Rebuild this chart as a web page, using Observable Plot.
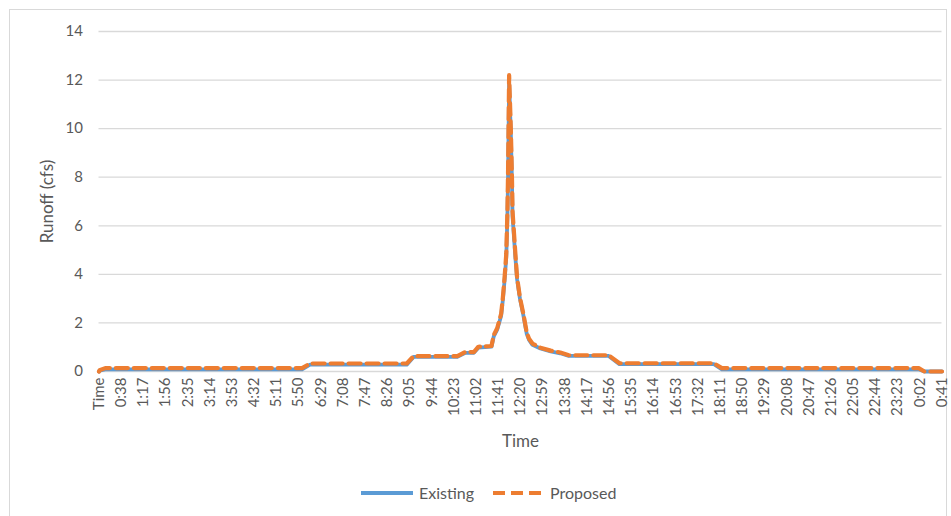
<!DOCTYPE html>
<html>
<head>
<meta charset="utf-8">
<script src="https://cdn.jsdelivr.net/npm/d3@7"></script>
<script src="https://cdn.jsdelivr.net/npm/@observablehq/plot@0.6"></script>
<style>
  html, body { margin: 0; padding: 0; background: #fff; }
  body { width: 951px; height: 516px; position: relative; overflow: hidden; font-family: Lato, "Open Sans", sans-serif; }
  #frame { position: absolute; left: 9px; top: 9px; width: 938px; height: 520px; border: 1px solid #d9d9d9; box-sizing: border-box; }
  #chart { position: absolute; left: 0; top: 0; }
  #legend { position: absolute; left: 0; top: 481px; width: 951px; height: 24px; font-size: 16px; color: #595959; }
  .item { position: absolute; top: 0; height: 24px; line-height: 24px; }
</style>
</head>
<body>
<div id="frame"></div>
<div id="chart"></div>
<div id="legend"></div>
<script>
// Category tick labels shown on the x axis (every 39th category)
const tickLabels = ["Time","0:38","1:17","1:56","2:35","3:14","3:53","4:32","5:11","5:50","6:29","7:08","7:47","8:26","9:05","9:44","10:23","11:02","11:41","12:20","12:59","13:38","14:17","14:56","15:35","16:14","16:53","17:32","18:11","18:50","19:29","20:08","20:47","21:26","22:05","22:44","23:23","0:02","0:41"];

// Breakpoints of the hydrographs (time "h:mm", hours past 24 = next day)
const existingTimes = ["Time","0:00","0:10","5:56","6:10","9:00","9:12","10:29","10:43","10:58","11:06","11:29","11:33","11:39","11:46","11:49","11:52","11:55","11:57","11:58","12:00","12:03","12:05","12:06","12:11","12:14","12:19","12:25","12:31","12:35","12:41","12:55","13:13","13:30","13:45","14:55","15:14","18:00","18:14","24:00","24:10","24:41"];
const existingRunoff = [0,0.04,0.09,0.09,0.28,0.28,0.60,0.60,0.77,0.77,0.98,1.02,1.45,1.72,2.3,2.95,3.75,4.7,6.4,7.8,11.9,9.8,7.8,6.4,4.7,3.8,3.0,2.32,1.55,1.3,1.1,0.95,0.83,0.75,0.64,0.64,0.30,0.30,0.09,0.09,0,0];

const proposedTimes = ["Time","0:00","0:10","5:56","6:10","9:00","9:12","10:29","10:43","10:58","11:06","11:29","11:33","11:39","11:46","11:49","11:52","11:55","11:57","11:58","12:00","12:03","12:05","12:06","12:11","12:14","12:19","12:25","12:31","12:35","12:41","12:55","13:13","13:30","13:45","14:55","15:14","18:00","18:14","24:00","24:10","24:41"];
const proposedRunoff = [0,0.05,0.14,0.14,0.33,0.33,0.63,0.63,0.80,0.80,1.02,1.05,1.5,1.78,2.38,3.05,3.87,4.85,6.6,8.0,12.2,10.0,8.0,6.6,4.85,3.87,3.05,2.38,1.6,1.35,1.15,0.98,0.86,0.78,0.67,0.67,0.34,0.34,0.14,0.14,0,0];

const yTicks = [0,2,4,6,8,10,12,14];
const xTitle = "Time";
const yTitle = "Runoff (cfs)";

// category index: "Time" header is category 0, minute m is category m+1
function toIndex(t) {
  if (t === "Time") return 0;
  const [h, m] = t.split(":").map(Number);
  return h * 60 + m + 1;
}
const existing = existingTimes.map((t, i) => ({series: "Existing", x: toIndex(t), y: existingRunoff[i]}));
const proposed = proposedTimes.map((t, i) => ({series: "Proposed", x: toIndex(t), y: proposedRunoff[i]}));

const tickPositions = tickLabels.map((_, i) => i * 39);

const chart = Plot.plot({
  width: 951,
  height: 470,
  marginLeft: 98.5,
  marginRight: 9.5,
  marginTop: 31,
  marginBottom: 99,
  style: {fontFamily: "Lato, 'Open Sans', sans-serif", fontSize: "15px", color: "#595959", background: "transparent"},
  x: {domain: [0, 1482]},
  y: {domain: [0, 14]},
  marks: [
    Plot.gridY(yTicks, {stroke: "#d9d9d9", strokeOpacity: 1, strokeWidth: 1.3}),
    Plot.axisY(yTicks, {tickSize: 0, tickPadding: 16, fontSize: 15, fill: "#595959", label: null}),
    Plot.axisX(tickPositions, {tickSize: 0, tickPadding: 6, tickRotate: -90, fontSize: 15, fill: "#595959",
      tickFormat: (d) => tickLabels[Math.round(d / 39)], label: null}),
    Plot.text([yTitle], {text: d => d, frameAnchor: "left", textAnchor: "middle", lineAnchor: "middle", rotate: -90, dx: -51, fontSize: 17, fill: "#595959"}),
    Plot.text([xTitle], {text: d => d, frameAnchor: "bottom", textAnchor: "middle", lineAnchor: "middle", dy: 70, fontSize: 17, fill: "#595959"}),
    Plot.line(existing, {x: "x", y: "y", stroke: "#5b9bd5", strokeWidth: 3.8, curve: "linear"}),
    Plot.line(proposed, {x: "x", y: "y", stroke: "#ed7d31", strokeWidth: 4.2, strokeDasharray: "12,6", curve: "linear"})
  ]
});
document.getElementById("chart").appendChild(chart);

// legend
const legend = document.getElementById("legend");
legend.innerHTML = `
  <svg class="item" style="left:360px" width="54" height="24"><line x1="1" y1="12" x2="53" y2="12" stroke="#5b9bd5" stroke-width="4"/></svg>
  <span class="item" style="left:419px">Existing</span>
  <svg class="item" style="left:492px" width="54" height="24"><line x1="1" y1="12" x2="53" y2="12" stroke="#ed7d31" stroke-width="4" stroke-dasharray="12,6"/></svg>
  <span class="item" style="left:550px">Proposed</span>`;
</script>
</body>
</html>
